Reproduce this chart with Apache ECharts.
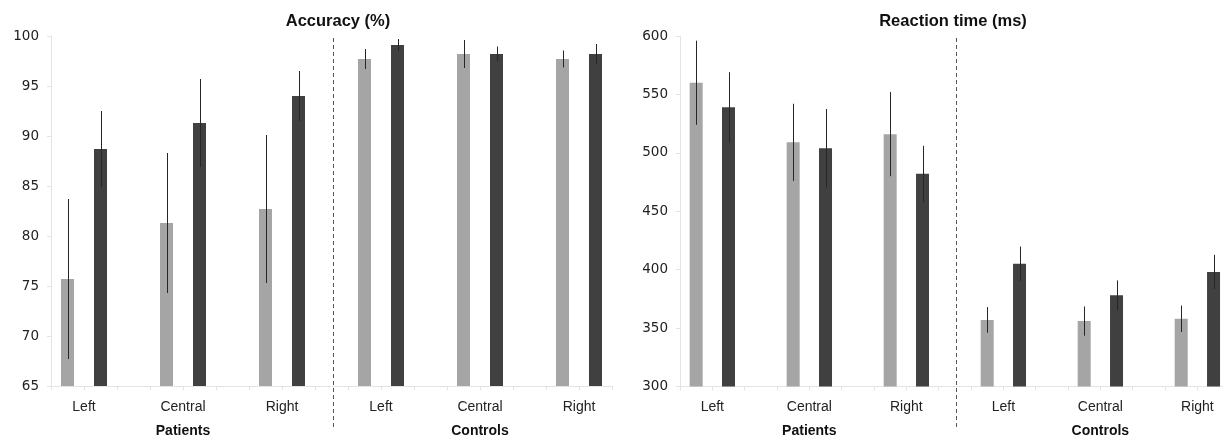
<!DOCTYPE html>
<html>
<head>
<meta charset="utf-8">
<script src="https://cdn.jsdelivr.net/npm/echarts@6/dist/echarts.min.js"></script>
<style>
  html, body { margin: 0; padding: 0; background: #ffffff; }
  #chart { width: 1223px; height: 439px; }
</style>
</head>
<body>
<div id="chart"></div>
<script>
// Conditions within each group, and the two groups
const conditions = ['Left', 'Central', 'Right'];
const groups = ['Patients', 'Controls'];

// Accuracy (%) — light bars, dark bars, and their error half-widths
// order: Patients Left, Central, Right, Controls Left, Central, Right
const accLight = [75.7, 81.3, 82.7, 97.7, 98.2, 97.7];
const accLightErr = [8.0, 7.0, 7.4, 1.0, 1.4, 0.85];
const accDark = [88.7, 91.3, 94.0, 99.1, 98.2, 98.2];
const accDarkErr = [3.8, 4.4, 2.5, 0.6, 0.75, 1.0];

// Reaction time (ms)
const rtLight = [560, 509, 516, 357, 356, 358];
const rtLightErr = [36, 33, 36, 11, 12.5, 11.3];
const rtDark = [539, 504, 482, 405, 378, 398];
const rtDarkErr = [30, 33.5, 24, 14.8, 12.8, 14.7];

// y axis ranges and tick steps
const accAxis = { min: 65, max: 100, interval: 5 };
const rtAxis = { min: 300, max: 600, interval: 50 };

// Slot layout along the x axis: each condition gets three slots
// (light bar, dark bar, gap); each group spans nine slots.
const SLOTS = 17;
function slotOf(i) { return Math.floor(i / 3) * 9 + (i % 3) * 3; }
function lightPts(vals) { return vals.map((v, i) => [slotOf(i) + 0.5, v]); }
function darkPts(vals) { return vals.map((v, i) => [slotOf(i) + 1.5, v]); }
function errPts(vals, errs, off) {
  return vals.map((v, i) => [slotOf(i) + off, v - errs[i], v + errs[i]]);
}
const condLabelAt = {};
for (let i = 0; i < 6; i++) condLabelAt[slotOf(i) + 1] = conditions[i % 3];
const groupLabelAt = {};
groups.forEach((g, k) => { groupLabelAt[k * 9 + 4] = g; });

const LIGHT = '#a5a5a5';
const DARK = '#404040';
const AXIS_GREY = '#e4e4e4';
const TEXT = '#222222';

function xAxes(gridIndex) {
  return [
    {
      type: 'value', gridIndex, min: 0, max: SLOTS, interval: 1,
      axisLine: { show: true, lineStyle: { color: AXIS_GREY, width: 1 } },
      axisTick: { show: true, length: 4, lineStyle: { color: AXIS_GREY } },
      splitLine: { show: false },
      axisLabel: {
        margin: 14, color: TEXT, fontFamily: 'Liberation Sans', fontSize: 14,
        showMinLabel: true, showMaxLabel: true,
        formatter: v => condLabelAt[Math.round(v)] || ''
      }
    },
    {
      type: 'value', gridIndex, min: 0, max: SLOTS, interval: 1, position: 'bottom',
      axisLine: { show: false }, axisTick: { show: false }, splitLine: { show: false },
      axisLabel: {
        margin: 38, color: '#111', fontFamily: 'Liberation Sans', fontSize: 14,
        fontWeight: 'bold',
        formatter: v => groupLabelAt[Math.round(v)] || ''
      }
    }
  ];
}

function yAxis(gridIndex, range) {
  return {
    type: 'value', gridIndex, min: range.min, max: range.max, interval: range.interval,
    axisLine: { show: true, lineStyle: { color: AXIS_GREY, width: 1 } },
    axisTick: { show: true, length: 4, lineStyle: { color: AXIS_GREY } },
    splitLine: { show: false },
    axisLabel: { margin: 12, color: TEXT, fontFamily: 'DejaVu Sans', fontSize: 13.5 }
  };
}

function barSeries(xi, yi, data, color) {
  return {
    type: 'bar', xAxisIndex: xi, yAxisIndex: yi, data,
    barWidth: 13, barGap: '-100%', itemStyle: { color }, silent: true,
    animation: false
  };
}

function errSeries(xi, yi, data) {
  return {
    type: 'custom', xAxisIndex: xi, yAxisIndex: yi, data, z: 5, animation: false,
    renderItem: (params, api) => {
      const a = api.coord([api.value(0), api.value(1)]);
      const b = api.coord([api.value(0), api.value(2)]);
      return {
        type: 'line',
        shape: { x1: Math.round(a[0]) + 0.5, y1: a[1], x2: Math.round(b[0]) + 0.5, y2: b[1] },
        style: { stroke: '#262626', lineWidth: 1 }
      };
    }
  };
}

// Dashed divider between the two groups, running from the top of the plot
// down past the group labels
const dividerAt = [[8.55]];
function dividerSeries(xi, yi, range) {
  return {
    type: 'custom', xAxisIndex: xi, yAxisIndex: yi, data: dividerAt, clip: false,
    z: 4, animation: false,
    renderItem: (params, api) => {
      const top = api.coord([api.value(0), range.max]);
      const bot = api.coord([api.value(0), range.min]);
      const x = Math.round(top[0]) + 0.5;
      return {
        type: 'line',
        shape: { x1: x, y1: top[1] + 2, x2: x, y2: bot[1] + 43 },
        style: { stroke: '#555555', lineWidth: 1, lineDash: [4, 3] }
      };
    }
  };
}

const chart = echarts.init(document.getElementById('chart'), null, { renderer: 'canvas' });
chart.setOption({
  backgroundColor: '#ffffff',
  animation: false,
  title: [
    {
      text: 'Accuracy (%)', left: 333, top: 8, textAlign: 'center',
      textStyle: { fontFamily: 'Liberation Sans', fontSize: 16.5, fontWeight: 'bold', color: '#111' }
    },
    {
      text: 'Reaction time (ms)', left: 948, top: 8, textAlign: 'center',
      textStyle: { fontFamily: 'Liberation Sans', fontSize: 16.5, fontWeight: 'bold', color: '#111' }
    }
  ],
  grid: [
    { left: 51, top: 36, width: 561, height: 350, outerBoundsMode: 'none', containLabel: false },
    { left: 680, top: 36, width: 549.7, height: 350.5, outerBoundsMode: 'none', containLabel: false }
  ],
  xAxis: [...xAxes(0), ...xAxes(1)],
  yAxis: [yAxis(0, accAxis), yAxis(1, rtAxis)],
  series: [
    barSeries(0, 0, lightPts(accLight), LIGHT),
    barSeries(0, 0, darkPts(accDark), DARK),
    errSeries(0, 0, errPts(accLight, accLightErr, 0.5)),
    errSeries(0, 0, errPts(accDark, accDarkErr, 1.5)),
    dividerSeries(0, 0, accAxis),
    barSeries(2, 1, lightPts(rtLight), LIGHT),
    barSeries(2, 1, darkPts(rtDark), DARK),
    errSeries(2, 1, errPts(rtLight, rtLightErr, 0.5)),
    errSeries(2, 1, errPts(rtDark, rtDarkErr, 1.5)),
    dividerSeries(2, 1, rtAxis)
  ]
});
</script>
</body>
</html>
